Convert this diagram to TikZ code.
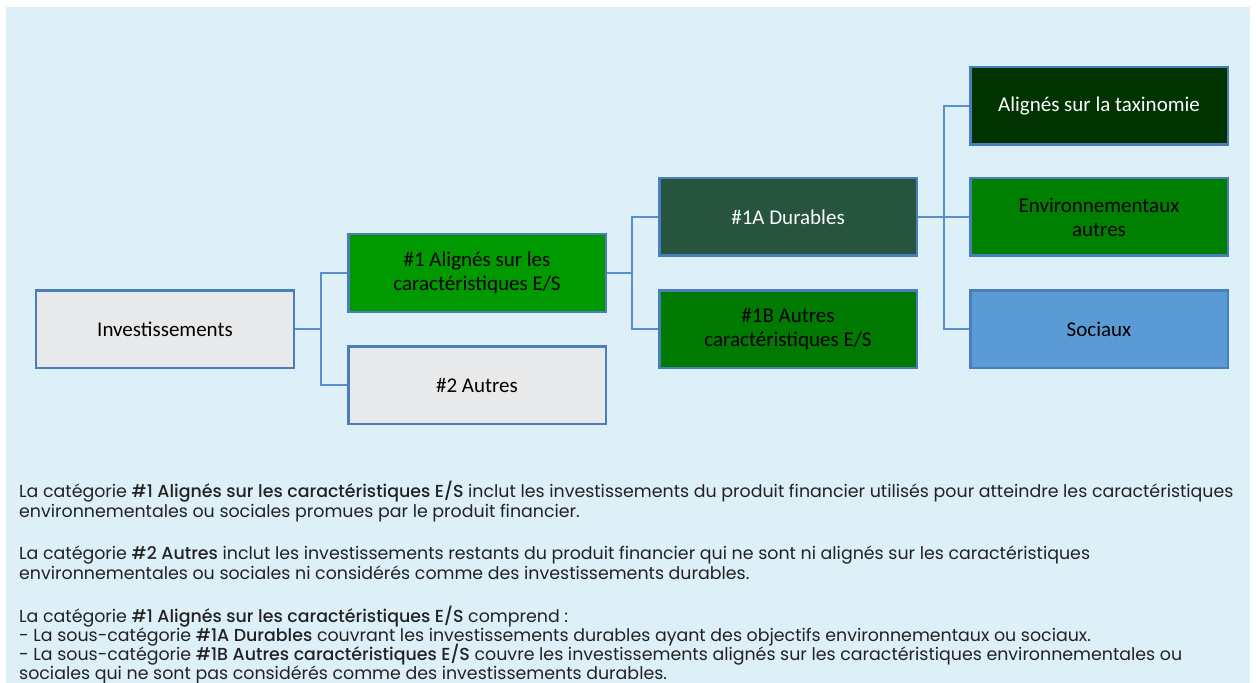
\documentclass[tikz,border=0pt]{standalone}
\usepackage{fontspec}
\setmainfont{Poppins}[BoldFont={Poppins Medium}]
\newfontfamily\boxfont{Carlito}
\usetikzlibrary{positioning}
\definecolor{bgblue}{HTML}{DDEFF7}
\definecolor{boxline}{HTML}{4A7EBB}
\definecolor{linkblue}{HTML}{5B8FCC}
\definecolor{boxgrey}{HTML}{E7E9EA}
\definecolor{esgreen}{HTML}{009900}
\definecolor{durgreen}{HTML}{26543C}
\definecolor{othgreen}{HTML}{007A00}
\definecolor{taxgreen}{HTML}{003300}
\definecolor{envgreen}{HTML}{008000}
\definecolor{socblue}{HTML}{5B9BD5}
\definecolor{txtgrey}{HTML}{222222}
\newcommand\tightlines{\lineskiplimit=-20pt\relax}

\begin{document}
\begin{tikzpicture}[x=1bp, y=-1bp,
    box/.style={draw=boxline, line width=2.5bp, minimum width=257.5bp, minimum height=77.5bp,
        inner sep=2bp, align=center, font=\boxfont\fontsize{21bp}{24bp}\selectfont},
    grey/.style={box, fill=boxgrey},
    es/.style={box, fill=esgreen},
    dur/.style={box, fill=durgreen, text=white},
    oth/.style={box, fill=othgreen},
    tax/.style={box, fill=taxgreen, text=white},
    env/.style={box, fill=envgreen},
    soc/.style={box, fill=socblue},
    link/.style={draw=linkblue, line width=2.5bp},
    para/.style={anchor=north west, inner sep=0pt, align=left, text=txtgrey,
        font=\fontsize{17.4bp}{20bp}\selectfont\tightlines}
]
\fill[bgblue] (6,7) rectangle (1250,683);
\useasboundingbox (0,0) rectangle (1256,683);

\node[grey] (inv) at (165,329) {Investissements};
\node[es, right=52bp of inv, yshift=56bp] (align) {\#1 Alignés sur les\\caractéristiques E/S};
\node[grey, right=52bp of inv, yshift=-56bp] (autres) {\#2 Autres};
\node[dur, right=51bp of align, yshift=56bp] (durables) {\#1A Durables};
\node[oth, right=51bp of align, yshift=-56bp] (autresES) {\#1B Autres\\caractéristiques E/S};
\node[tax, right=51bp of durables, yshift=111bp] (taxo) {Alignés sur la taxinomie};
\node[env, right=51bp of durables] (envir) {Environnementaux\\autres};
\node[soc, right=51bp of durables, yshift=-112bp] (sociaux) {Sociaux};

\draw[link] (inv.east) -- ++(26bp,0) |- (align.west);
\draw[link] (inv.east) -- ++(26bp,0) |- (autres.west);
\draw[link] (align.east) -- ++(25bp,0) |- (durables.west);
\draw[link] (align.east) -- ++(25bp,0) |- (autresES.west);
\draw[link] (durables.east) -- ++(26bp,0) |- (taxo.west);
\draw[link] (durables.east) -- (envir.west);
\draw[link] (durables.east) -- ++(26bp,0) |- (sociaux.west);

\node[para] (p1) at (19,481) {La catégorie \textbf{\#1 Alignés sur les caractéristiques E/S} inclut les investissements du produit financier utilisés pour atteindre les caractéristiques\\
environnementales ou sociales promues par le produit financier.};
\node[para] (p2) at (19,546) {La catégorie \textbf{\#2 Autres} inclut les investissements restants du produit financier qui ne sont ni alignés sur les caractéristiques\\
environnementales ou sociales ni considérés comme des investissements durables.};
\node[para, font=\fontsize{17.4bp}{19bp}\selectfont\tightlines] (p3) at (19,606) {La catégorie \textbf{\#1 Alignés sur les caractéristiques E/S} comprend :\\
- La sous-catégorie \textbf{\#1A Durables} couvrant les investissements durables ayant des objectifs environnementaux ou sociaux.\\
- La sous-catégorie \textbf{\#1B Autres caractéristiques E/S} couvre les investissements alignés sur les caractéristiques environnementales ou\\
sociales qui ne sont pas considérés comme des investissements durables.};
\end{tikzpicture}
\end{document}
